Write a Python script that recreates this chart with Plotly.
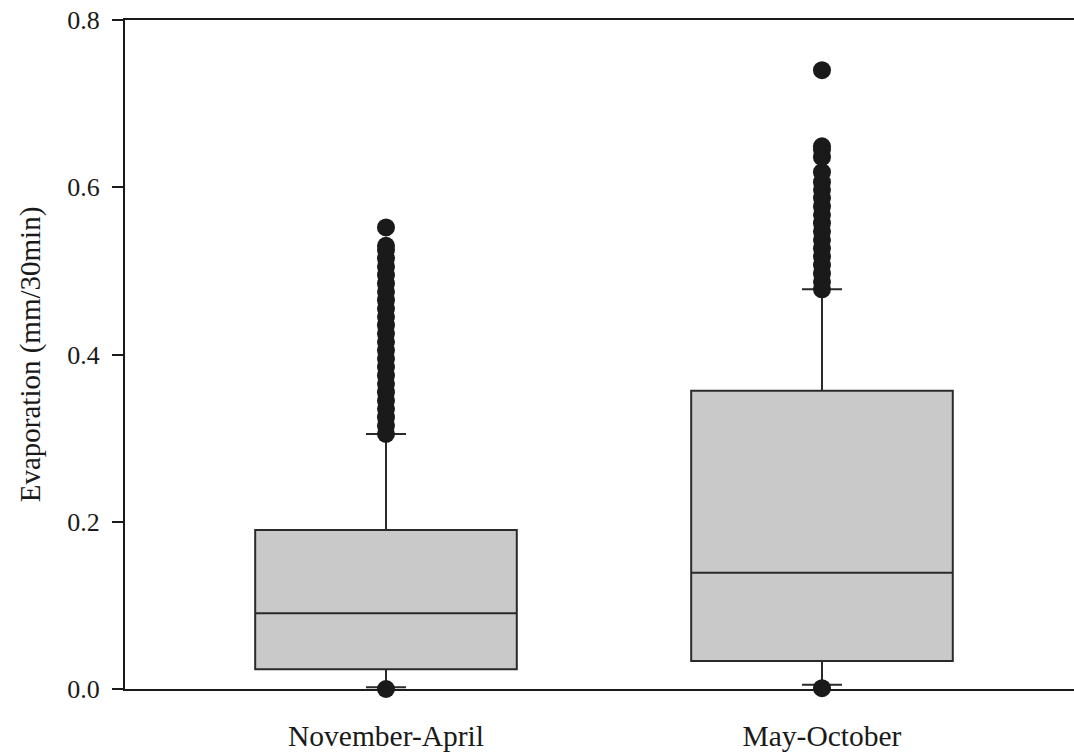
import plotly.graph_objects as go

# Seasonal groups
seasons = ["November-April", "May-October"]

# Box statistics (mm/30min)
q1_vals = [0.0236, 0.0335]
median_vals = [0.0905, 0.139]
q3_vals = [0.190, 0.3567]
lower_whisker = [0.002, 0.005]
upper_whisker = [0.305, 0.478]

# Outlying observations for each season
outliers_nov_apr = [0.000, 0.305, 0.315, 0.325, 0.335, 0.345, 0.355, 0.365, 0.375,
                    0.385, 0.395, 0.405, 0.415, 0.425, 0.435, 0.445, 0.455, 0.465,
                    0.475, 0.485, 0.495, 0.505, 0.515, 0.525, 0.530, 0.552]
outliers_may_oct = [0.001, 0.478, 0.487, 0.497, 0.507, 0.517, 0.527, 0.537, 0.547,
                    0.557, 0.567, 0.577, 0.587, 0.597, 0.606, 0.618, 0.636, 0.645,
                    0.649, 0.740]

y_ticks = [0.0, 0.2, 0.4, 0.6, 0.8]
y_tick_text = ["0.0", "0.2", "0.4", "0.6", "0.8"]

FONT = "Liberation Serif"
INK = "#1a1a1a"

fig = go.Figure()

fig.add_trace(go.Box(
    x=seasons,
    q1=q1_vals,
    median=median_vals,
    q3=q3_vals,
    lowerfence=lower_whisker,
    upperfence=upper_whisker,
    boxpoints=False,
    width=0.6,
    whiskerwidth=0.153,
    fillcolor="#c9c9c9",
    line=dict(color="#2a2a2a", width=2),
    showlegend=False,
    hoverinfo="skip",
))

out_x = [seasons[0]] * len(outliers_nov_apr) + [seasons[1]] * len(outliers_may_oct)
out_y = outliers_nov_apr + outliers_may_oct
fig.add_trace(go.Scatter(
    x=out_x,
    y=out_y,
    mode="markers",
    marker=dict(size=18, color=INK, line=dict(width=0)),
    cliponaxis=False,
    showlegend=False,
    hoverinfo="skip",
))

fig.update_layout(
    width=1074,
    height=755,
    margin=dict(l=125, r=0, t=20, b=66),
    paper_bgcolor="white",
    plot_bgcolor="white",
    font=dict(family=FONT, color=INK),
)

fig.update_xaxes(
    type="category",
    categoryorder="array",
    categoryarray=seasons,
    range=[-0.5986, 1.578],
    showline=True,
    mirror=True,
    linecolor=INK,
    linewidth=2,
    ticks="",
    showgrid=False,
    zeroline=False,
    tickfont=dict(family=FONT, size=29.5, color=INK),
    ticklabelstandoff=20,
)

fig.update_yaxes(
    range=[0, 0.8],
    tickvals=y_ticks,
    ticktext=y_tick_text,
    ticks="outside",
    ticklen=11,
    tickwidth=2,
    tickcolor=INK,
    showline=True,
    linecolor=INK,
    linewidth=2,
    showgrid=False,
    zeroline=False,
    tickfont=dict(family=FONT, size=26, color=INK),
    ticklabelstandoff=7,
    title=dict(text="Evaporation (mm/30min)", font=dict(family=FONT, size=29, color=INK), standoff=18),
)

fig.write_html("out.html")
